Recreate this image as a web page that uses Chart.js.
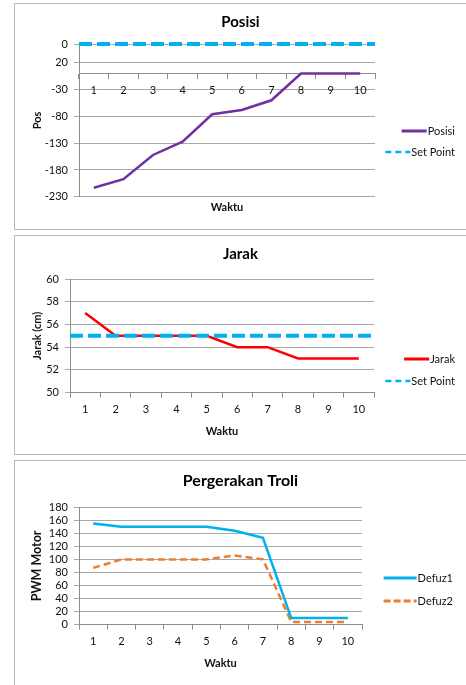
<!DOCTYPE html>
<html>
<head>
<meta charset="utf-8">
<script src="https://cdn.jsdelivr.net/npm/chart.js@4.4.1/dist/chart.umd.min.js"></script>
<style>
    body { margin: 0; width: 466px; height: 685px; background: #fff; position: relative; overflow: hidden; }
    .box { position: absolute; left: 14px; width: 470px; box-sizing: border-box; border: 1px solid #b8b8b8; background: #fff; }
    #box1 { top: 3px; height: 227px; }
    #box2 { top: 235px; height: 220px; }
    #box3 { top: 460px; height: 240px; }
    canvas { position: absolute; left: 0; top: 0; display: block; }
</style>
</head>
<body>
<div class="box" id="box1"><canvas id="posisi-chart" width="451" height="224"></canvas></div>
<div class="box" id="box2"><canvas id="jarak-chart" width="451" height="217"></canvas></div>
<div class="box" id="box3"><canvas id="troli-chart" width="451" height="224"></canvas></div>
<script>
// Sumbu waktu (sama untuk ketiga grafik)
const waktu = ['1', '2', '3', '4', '5', '6', '7', '8', '9', '10'];

// Posisi
const posisi = [-213, -197, -152, -127, -76, -68, -50, 0, 0, 0];
const posisiSetPoint = 55;
const posisiTicks = [-230, -180, -130, -80, -30, 20, 55];
const posisiTickLabels = ['-230', '-180', '-130', '-80', '-30', '20', '0'];

// Jarak
const jarak = [57, 55, 55, 55, 55, 54, 54, 53, 53, 53];
const jarakSetPoint = 55;

// Pergerakan Troli
const defuz1 = [155, 150, 150, 150, 150, 144, 133, 10, 10, 10];
const defuz2 = [87, 100, 100, 100, 100, 106, 100, 4, 4, 4];

// set point spans the whole time axis
const setPointSpan = [0.5, waktu.length + 0.5];

const GRID = '#a9a9a9';
const AXIS = '#8c8c8c';
const TEXT = '#111';

Chart.defaults.font.family = 'Lato, "Open Sans", sans-serif';
Chart.defaults.font.size = 11;
Chart.defaults.color = TEXT;

// Legend drawn at the right like the Excel one (entries right aligned)
const sideLegend = {
    id: 'sideLegend',
    afterDraw(chart, args, opts) {
        const ctx = chart.ctx;
        ctx.save();
        ctx.font = '11px Lato, "Open Sans", sans-serif';
        ctx.textBaseline = 'middle';
        ctx.textAlign = 'right';
        chart.data.datasets.forEach((ds, i) => {
            const y = opts.top + i * opts.spacing;
            const textW = ctx.measureText(ds.label).width;
            const lineEnd = opts.right - textW - 1;
            ctx.fillStyle = TEXT;
            ctx.fillText(ds.label, opts.right, y);
            ctx.beginPath();
            ctx.strokeStyle = ds.borderColor;
            ctx.lineWidth = opts.lineWidths[i];
            ctx.setLineDash(opts.dashes[i]);
            ctx.moveTo(lineEnd - opts.lineLen, y);
            ctx.lineTo(lineEnd, y);
            ctx.stroke();
        });
        ctx.restore();
    }
};

function yAxis(title, titleSize, width, extra) {
    return Object.assign({
        title: { display: true, text: title, font: { size: titleSize, weight: 'bold' }, padding: { top: 22 - titleSize * 0.6, bottom: 4 } },
        grid: { color: GRID, tickLength: 5 },
        border: { color: AXIS },
        afterFit: (scale) => { scale.width = width; }
    }, extra);
}

// empty axis on the right that keeps room for the legend
function legendRoom(width) {
    return {
        type: 'linear',
        position: 'right',
        ticks: { display: false },
        grid: { display: false, drawTicks: false },
        border: { display: false },
        afterFit: (scale) => { scale.width = width; }
    };
}

function categoryAxis(extra) {
    return Object.assign({
        offset: true,
        grid: { offset: true, drawOnChartArea: false, tickLength: 5, color: AXIS },
        border: { color: AXIS },
        ticks: { padding: 5, maxRotation: 0, autoSkip: false }
    }, extra);
}

function titleOptions(text, size, top, bottom) {
    return {
        display: true,
        text: text,
        color: '#000',
        font: { size: size, weight: 'bold' },
        padding: { top: top, bottom: bottom }
    };
}

const commonPlugins = {
    legend: { display: false },
    tooltip: { enabled: false }
};

// ---- Posisi ----
new Chart(document.getElementById('posisi-chart'), {
    type: 'line',
    data: {
        labels: waktu,
        datasets: [{
            label: 'Posisi',
            data: posisi,
            borderColor: '#7030a0',
            borderWidth: 2.5,
            pointRadius: 0,
            tension: 0,
            order: 2
        }, {
            label: 'Set Point',
            data: setPointSpan.map(x => ({ x: x, y: posisiSetPoint })),
            xAxisID: 'xs',
            borderColor: '#00b0f0',
            borderWidth: 4,
            borderDash: [13, 5],
            pointRadius: 0,
            clip: 6,
            order: 1
        }]
    },
    options: {
        responsive: false,
        animation: false,
        events: [],
        layout: { padding: { left: 0, right: 0, top: 0, bottom: 10 } },
        plugins: Object.assign({}, commonPlugins, {
            title: titleOptions('Posisi', 15, 9, 13),
            sideLegend: { right: 440, top: 127, spacing: 21, lineLen: 25, lineWidths: [3, 2.5], dashes: [[], [6, 4]] }
        }),
        scales: {
            x: categoryAxis({ position: { y: 0 } }),
            xs: {
                type: 'linear',
                position: 'bottom',
                min: setPointSpan[0],
                max: setPointSpan[1],
                ticks: { display: false },
                grid: { display: false, drawTicks: false },
                border: { display: false },
                title: { display: true, text: 'Waktu', font: { size: 11, weight: 'bold' } }
            },
            y: yAxis('Pos', 11, 64, {
                min: -230,
                max: 55,
                afterBuildTicks: (scale) => {
                    scale.ticks = posisiTicks.map(v => ({ value: v }));
                },
                ticks: {
                    padding: 6,
                    autoSkip: false,
                    callback: (value, index) => posisiTickLabels[index]
                }
            }),
            room: legendRoom(91)
        }
    },
    plugins: [sideLegend]
});

// ---- Jarak ----
new Chart(document.getElementById('jarak-chart'), {
    type: 'line',
    data: {
        labels: waktu,
        datasets: [{
            label: 'Jarak',
            data: jarak,
            borderColor: '#ff0000',
            borderWidth: 2.5,
            pointRadius: 0,
            tension: 0,
            order: 2
        }, {
            label: 'Set Point',
            data: setPointSpan.map(x => ({ x: x, y: jarakSetPoint })),
            xAxisID: 'xs',
            borderColor: '#00b0f0',
            borderWidth: 4,
            borderDash: [13, 5],
            pointRadius: 0,
            order: 1
        }]
    },
    options: {
        responsive: false,
        animation: false,
        events: [],
        layout: { padding: { left: 0, right: 0, top: 0, bottom: 11 } },
        plugins: Object.assign({}, commonPlugins, {
            title: titleOptions('Jarak', 15, 9, 16),
            sideLegend: { right: 440, top: 123, spacing: 22, lineLen: 25, lineWidths: [3, 2.5], dashes: [[], [6, 4]] }
        }),
        scales: {
            x: categoryAxis({
                title: { display: true, text: 'Waktu', font: { size: 11, weight: 'bold' } }
            }),
            xs: { type: 'linear', display: false, min: setPointSpan[0], max: setPointSpan[1] },
            y: yAxis('Jarak (cm)', 11, 55, { min: 50, max: 60, ticks: { padding: 6, stepSize: 2, autoSkip: false } }),
            room: legendRoom(92)
        }
    },
    plugins: [sideLegend]
});

// ---- Pergerakan Troli ----
new Chart(document.getElementById('troli-chart'), {
    type: 'line',
    data: {
        labels: waktu,
        datasets: [{
            label: 'Defuz1',
            data: defuz1,
            borderColor: '#00b0f0',
            borderWidth: 2.5,
            pointRadius: 0,
            tension: 0
        }, {
            label: 'Defuz2',
            data: defuz2,
            borderColor: '#ed7d31',
            borderWidth: 2.5,
            borderDash: [7, 4],
            pointRadius: 0,
            tension: 0
        }]
    },
    options: {
        responsive: false,
        animation: false,
        events: [],
        layout: { padding: { left: 0, right: 0, top: 0, bottom: 11 } },
        plugins: Object.assign({}, commonPlugins, {
            title: titleOptions('Pergerakan Troli', 16, 10, 17),
            sideLegend: { right: 438, top: 117, spacing: 23, lineLen: 33, lineWidths: [3, 3], dashes: [[], [7, 3]] }
        }),
        scales: {
            x: categoryAxis({
                title: { display: true, text: 'Waktu', font: { size: 11, weight: 'bold' } }
            }),
            y: yAxis('PWM Motor', 12.5, 64, { min: 0, max: 180, ticks: { padding: 6, stepSize: 20, autoSkip: false } }),
            room: legendRoom(104)
        }
    },
    plugins: [sideLegend]
});
</script>
</body>
</html>
